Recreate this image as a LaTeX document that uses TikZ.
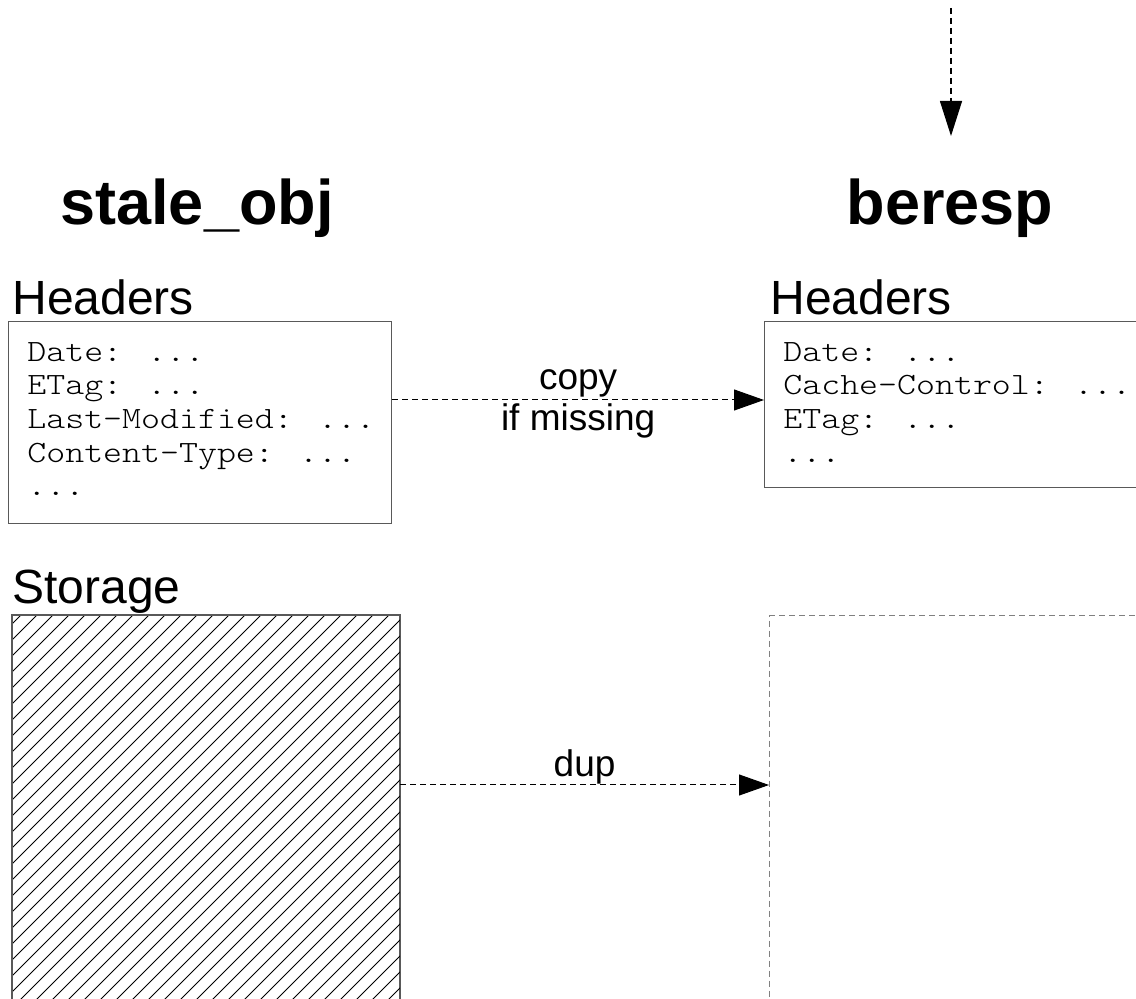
\documentclass[tikz,border=0pt]{standalone}
\usepackage{fontspec}
\setmainfont{Liberation Sans}
\newfontfamily\hdrfont{lmmonolt10-regular}[Extension=.otf, FakeStretch=1.165]
\usetikzlibrary{arrows.meta, positioning}

\tikzset{
  objname/.style={font=\fontsize{31.5pt}{36pt}\selectfont\bfseries, anchor=base, inner sep=0pt},
  partname/.style={font=\fontsize{24pt}{28pt}\selectfont, anchor=base west, inner sep=0pt},
  hdrbox/.style={draw=black!65, line width=0.6pt, anchor=north west, inner sep=0pt},
  hdrlines/.style={font=\fontsize{15.5pt}{16.8pt}\selectfont\hdrfont, align=left, anchor=north west, inner sep=0pt},
  flow/.style={densely dashed, line width=0.5pt, -{Triangle[length=15pt, width=10.5pt]}},
  flowlabel/.style={font=\fontsize{18.5pt}{20.5pt}\selectfont, align=center, inner sep=0pt},
  hatch/.style={line width=0.5pt}
}

\begin{document}
\begin{tikzpicture}[x=0.5pt, y=-0.5pt]
  \path[use as bounding box] (0,0) rectangle (1136,999);
  \clip (0,0) rectangle (1136,999);

  % incoming arrow from above
  \coordinate (from) at (951,8);
  \coordinate (into) at (951,136);
  \draw[densely dashed, line width=0.6pt, -{Triangle[length=17.5pt, width=11pt]}] (from) -- (into);

  % object names
  \node[objname] (stale) at (197,225) {stale\_obj};
  \node[objname] (beresp) at (950,225) {beresp};

  % headers
  \node[partname] (oldhdrlbl) at (12,315) {Headers};
  \node[partname] (newhdrlbl) at (770,315) {Headers};
  \node[hdrbox, minimum width=191.5pt, minimum height=101pt] (oldhdr) at (8,321) {};
  \node[hdrbox, minimum width=210pt, minimum height=83pt] (newhdr) at (764,321) {};
  \node[hdrlines] (oldlines) at ([shift={(19,21)}]oldhdr.north west)
    {Date: ...\\ETag: ...\\Last-Modified: ...\\Content-Type: ...\\...};
  \node[hdrlines] (newlines) at ([shift={(19,21)}]newhdr.north west)
    {Date: ...\\Cache-Control: ...\\ETag: ...\\...};

  \draw[flow] (oldhdr.east |- 0,400) -- (newhdr.west |- 0,400)
    node[flowlabel, midway, yshift=-2pt] (copy) {copy\\if missing};

  % storage
  \node[partname] (stolbl) at (12,604) {Storage};
  \node[hdrbox, minimum width=193.5pt, minimum height=242.5pt] (oldsto) at (12,615) {};
  \node[hdrbox, draw=black!50, densely dashed, minimum width=200pt, minimum height=242.5pt] (newsto) at (769,615) {};

  \begin{scope}
    \clip (oldsto.south west) rectangle (oldsto.north east);
    \foreach \a in {-480,-464,...,400}
      \draw[hatch] (\a,1100) -- ++(490,-490);
  \end{scope}
  \draw[draw=black!65, line width=0.6pt] (oldsto.south west) rectangle (oldsto.north east);

  \coordinate (dupy) at (0,785);
  \draw[flow] (oldsto.east |- dupy) -- (newsto.west |- dupy)
    node[flowlabel, midway, above=0pt] (dup) {dup};
\end{tikzpicture}
\end{document}
